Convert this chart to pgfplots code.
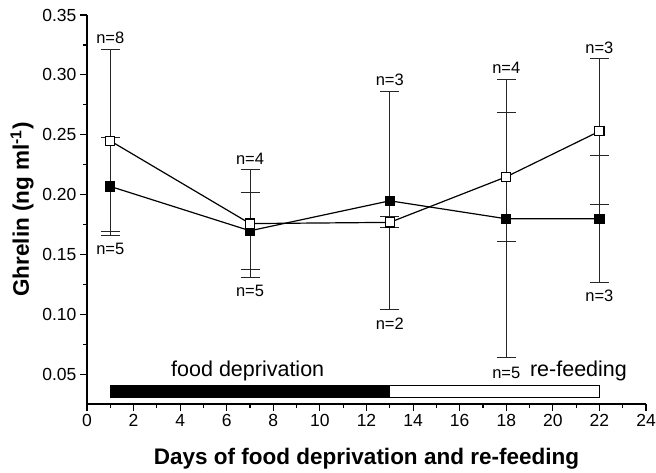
\documentclass[border=0pt]{standalone}
\usepackage{pgfplots}
\pgfplotsset{compat=1.18}
\usepackage{fontspec}
\setmainfont{Liberation Sans}
\begin{document}
\begin{tikzpicture}
\begin{axis}[
  scale only axis,
  width=559pt, height=389pt,
  xmin=0, xmax=24, ymin=0.0255, ymax=0.35,
  axis x line*=bottom, axis y line*=left,
  axis line style={line width=1.3pt},
  tick align=outside,
  major tick length=7pt, minor tick length=4pt,
  every tick/.style={black, line width=1.1pt},
  xtick={0,2,...,24}, minor x tick num=1,
  ytick={0.05,0.10,0.15,0.20,0.25,0.30,0.35}, minor y tick num=1,
  /pgf/number format/assume math mode=true,
  yticklabel style={/pgf/number format/.cd, fixed, fixed zerofill, precision=2},
  ticklabel style={font=\fontsize{17.5}{20}\selectfont},
  xlabel={Days of food deprivation and re-feeding},
  ylabel={Ghrelin (ng ml\textsuperscript{-1})},
  label style={font=\fontsize{22.5}{26}\selectfont\bfseries},
  xlabel style={at={(axis description cs:0.5,0)}, anchor=base, yshift=-61pt},
  ylabel style={at={(axis description cs:-0.116,0.5)}, anchor=center, rotate=0},
  clip=false,
]
% timeline bar
\addplot[draw=black, fill=black, line width=1pt] coordinates {(1,0.031) (13,0.031) (13,0.0408) (1,0.0408)} -- cycle;
\addplot[draw=black, fill=white, line width=1pt] coordinates {(13,0.031) (22,0.031) (22,0.0408) (13,0.0408)} -- cycle;
\node[font=\fontsize{21.5}{24}\selectfont] at (axis cs:6.9,0.0528) {food deprivation};
\node[font=\fontsize{21.5}{24}\selectfont] at (axis cs:21.1,0.0528) {re-feeding};
% filled squares
\addplot[black, line width=1.2pt, mark=square*, mark size=4.6pt,
  mark options={fill=black, line width=1pt},
  error bars/.cd, y dir=both, y explicit,
  error bar style={line width=1pt, black!85},
  error mark options={rotate=90, line width=1pt, mark size=9.5pt, black!85}]
  table[x=x, y=y, y error=e] {
x y e
1 0.207 0.041
7 0.170 0.032
13 0.195 0.091
18 0.180 0.116
22 0.180 0.053
};
% open squares
\addplot[black, line width=1.2pt, mark=square*, mark size=4.6pt,
  mark options={fill=white, line width=1.2pt},
  error bars/.cd, y dir=both, y explicit,
  error bar style={line width=1pt, black!85},
  error mark options={rotate=90, line width=1pt, mark size=9.5pt, black!85}]
  table[x=x, y=y, y error=e] {
x y e
1 0.245 0.076
7 0.176 0.045
13 0.177 0.0045
18 0.215 0.054
22 0.253 0.061
};
\begin{scope}[every node/.style={font=\fontsize{16.5}{19}\selectfont}]
\node at (axis cs:1,0.331) {n=8};
\node at (axis cs:1,0.155) {n=5};
\node at (axis cs:7,0.230) {n=4};
\node at (axis cs:7,0.120) {n=5};
\node at (axis cs:13,0.296) {n=3};
\node at (axis cs:13,0.0925) {n=2};
\node at (axis cs:18,0.306) {n=4};
\node at (axis cs:18,0.0517) {n=5};
\node at (axis cs:22,0.323) {n=3};
\node at (axis cs:22,0.116) {n=3};
\end{scope}
\end{axis}
\pgfresetboundingbox
\path ([shift={(-87pt,-69pt)}]current axis.south west) rectangle ([shift={(10pt,15pt)}]current axis.north east);
\end{tikzpicture}
\end{document}
